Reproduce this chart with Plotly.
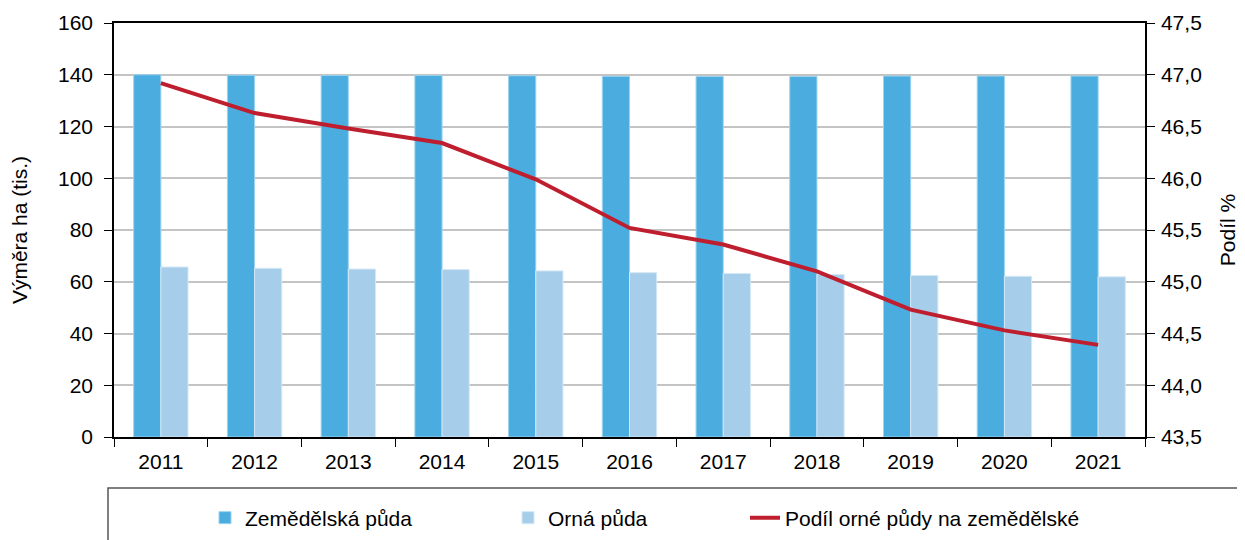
import plotly.graph_objects as go

years = ["2011", "2012", "2013", "2014", "2015", "2016", "2017", "2018", "2019", "2020", "2021"]
zemedelska = [140.0, 139.8, 139.7, 139.7, 139.6, 139.4, 139.3, 139.3, 139.5, 139.5, 139.5]
orna = [65.7, 65.2, 64.9, 64.7, 64.2, 63.5, 63.2, 62.8, 62.4, 62.1, 61.9]
podil = [46.92, 46.63, 46.48, 46.34, 45.99, 45.52, 45.36, 45.10, 44.73, 44.53, 44.39]

FONT = "Liberation Sans, Arial, Helvetica, sans-serif"
FS = 21
DARK = "#4BACDF"
LIGHT = "#A6CDE9"
RED = "#BE1E2D"

fig = go.Figure()
fig.add_trace(go.Bar(
    x=years, y=zemedelska, name="Zemědělská půda",
    marker=dict(color=DARK, line=dict(color="#9BD3F0", width=1)),
    legend="legend",
))
fig.add_trace(go.Bar(
    x=years, y=orna, name="Orná půda",
    marker=dict(color=LIGHT, line=dict(color="#D4E8F6", width=1)),
    legend="legend2",
))
fig.add_trace(go.Scatter(
    x=years, y=podil, name="Podíl orné půdy na zemědělské",
    mode="lines", line=dict(color=RED, width=4),
    yaxis="y2", legend="legend3",
))

# page has an 8px body margin; target plot area (page px): left 114, right 1145, top 23, bottom 437
OFF = 8
PW, PH = 1031, 414
def px_x(x):
    return (x - 114) / PW
def px_y(y):
    return (437 - y) / PH

legend_common = dict(
    orientation="h", yanchor="middle", xanchor="left",
    font=dict(family=FONT, size=FS, color="#000"),
    bgcolor="rgba(0,0,0,0)", borderwidth=0,
    itemwidth=30,
)

fig.update_layout(
    width=1245 - OFF, height=540 - OFF,
    margin=dict(l=114 - OFF, r=100, t=23 - OFF, b=103, autoexpand=False),
    paper_bgcolor="white", plot_bgcolor="white",
    font=dict(family=FONT, size=FS, color="#000"),
    separators=", ",
    barmode="group", bargap=0.42, bargroupgap=0,
    xaxis=dict(
        type="category", showline=True, linecolor="#000", linewidth=1.5,
        mirror=True, ticks="outside", ticklen=8, tickcolor="#000",
        tickson="boundaries", showgrid=False, ticklabelstandoff=5,
        tickfont=dict(family=FONT, size=FS, color="#000"),
    ),
    yaxis=dict(
        range=[0, 160], dtick=20, showline=True, linecolor="#000",
        linewidth=1.5, mirror=True, ticks="outside", ticklen=8,
        tickcolor="#000", showgrid=True, gridcolor="#C4C4C4", gridwidth=1.5,
        zeroline=False, tickformat="d", ticklabelstandoff=7,
        title=dict(text="Výměra ha (tis.)", standoff=27,
                   font=dict(family=FONT, size=FS, color="#000")),
        tickfont=dict(family=FONT, size=FS, color="#000"),
    ),
    yaxis2=dict(
        range=[43.5, 47.5], dtick=0.5, overlaying="y", side="right",
        showline=True, linecolor="#000", linewidth=1.5, ticks="outside",
        ticklen=8, tickcolor="#000", showgrid=False, zeroline=False,
        tickformat=".1f", ticklabelstandoff=2,
        title=dict(text="Podíl %", standoff=19,
                   font=dict(family=FONT, size=FS, color="#000")),
        tickfont=dict(family=FONT, size=FS, color="#000"),
    ),
    legend=dict(x=px_x(205), y=px_y(518), **legend_common),
    legend2=dict(x=px_x(508), y=px_y(518), **legend_common),
    legend3=dict(x=px_x(745), y=px_y(518), **legend_common),
    showlegend=True,
    shapes=[dict(
        type="rect", xref="paper", yref="paper",
        x0=px_x(108), x1=px_x(1260), y0=px_y(550), y1=px_y(488),
        line=dict(color="#555", width=1.5), fillcolor="rgba(0,0,0,0)",
        layer="below",
    )],
)

fig.write_html("out.html")
